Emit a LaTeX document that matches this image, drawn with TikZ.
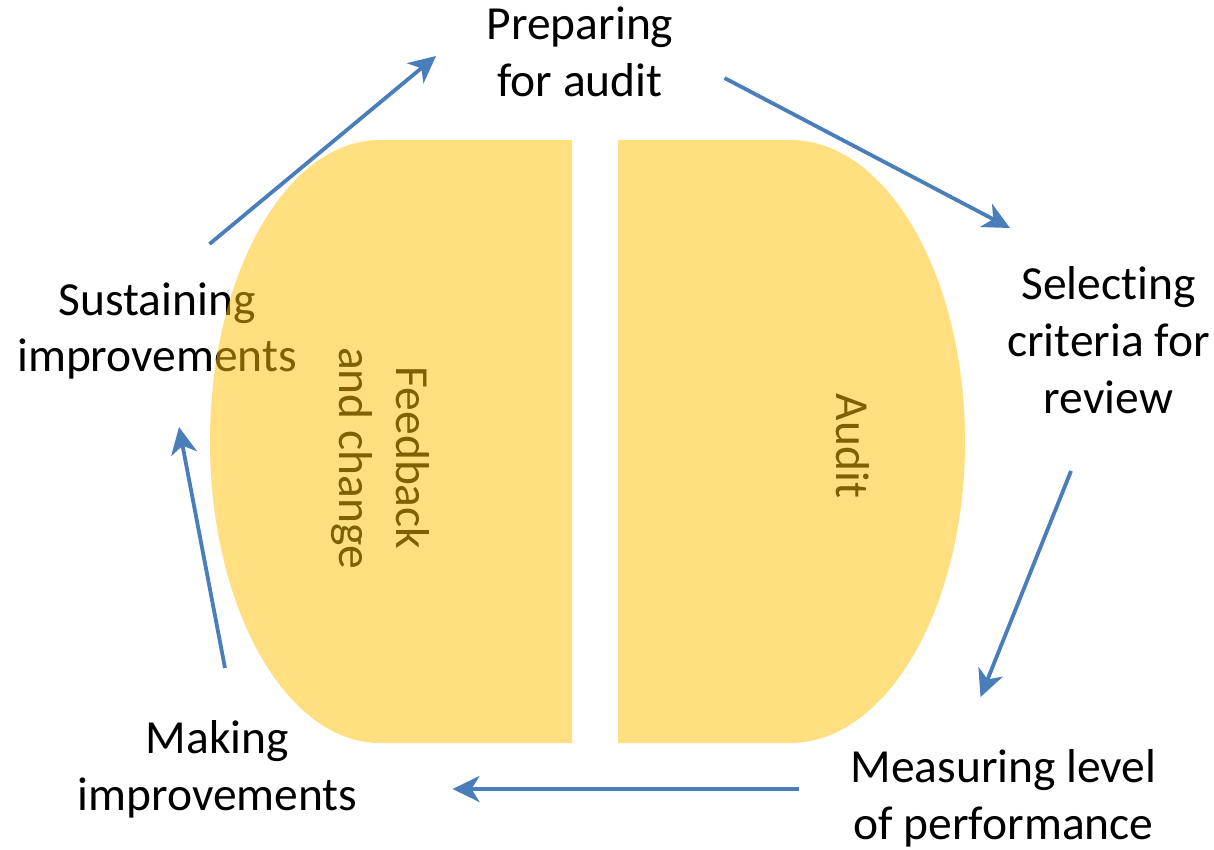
\documentclass[tikz,border=0pt]{standalone}
\usepackage{fontspec}
\setmainfont{Carlito}[Ligatures={NoCommon}]
\usetikzlibrary{arrows.meta}
\definecolor{cycleblue}{HTML}{4A7EBB}
\definecolor{panelgold}{HTML}{FFC000}
\begin{document}
\begin{tikzpicture}[x=1pt,y=-1pt,
  label text/.style={inner sep=0pt, align=center, anchor=base,
    font=\fontsize{47.5}{56.7}\selectfont},
  panel/.style={fill=panelgold, fill opacity=0.5, draw=none},
  cyclearrow/.style={draw=cycleblue, line width=3.8pt,
    -{Stealth[length=27pt, width=26pt, inset=8pt]}}]
\useasboundingbox (0,0) rectangle (1214,849);

% step labels round the cycle (placed by the baseline of their last line)
\node[label text] (prep) at (580,96) {Preparing\\for audit};
\node[label text] (sel)  at (1108.5,413.3) {Selecting\\criteria for\\review};
\node[label text] (meas) at (1003.5,839) {Measuring level\\of performance};
\node[label text] (mak)  at (217.5,810) {Making\\improvements};
\node[label text] (sus)  at (157,371.7) {Sustaining\\improvements};

% phase labels, set sideways
\node[label text, rotate=-90] (fb)    at (339.7,458) {Feedback\\and change};
\node[label text, rotate=-90] (audit) at (836,446) {Audit};

% the two half panels, translucent over the text
\path[panel] (572,140) -- (380,140)
  arc[start angle=-90, end angle=-270, x radius=170, y radius=301.5]
  -- (572,743) -- cycle;
\path[panel] (618,140) -- (790,140)
  arc[start angle=-90, end angle=90, x radius=175, y radius=301.5]
  -- (618,743) -- cycle;

% arrow ends
\coordinate (a1s) at (209.5,244);
\coordinate (a1e) at (436,56);
\coordinate (a2s) at (724.5,78);
\coordinate (a2e) at (1010,228);
\coordinate (a3s) at (1071,471);
\coordinate (a3e) at (980.5,697);
\coordinate (a4s) at (799,789);
\coordinate (a4e) at (452.5,789);
\coordinate (a5s) at (225,668);
\coordinate (a5e) at (179,427);

\draw[cyclearrow] (a1s) -- (a1e);
\draw[cyclearrow] (a2s) -- (a2e);
\draw[cyclearrow] (a3s) -- (a3e);
\draw[cyclearrow] (a4s) -- (a4e);
\draw[cyclearrow] (a5s) -- (a5e);
\end{tikzpicture}
\end{document}
